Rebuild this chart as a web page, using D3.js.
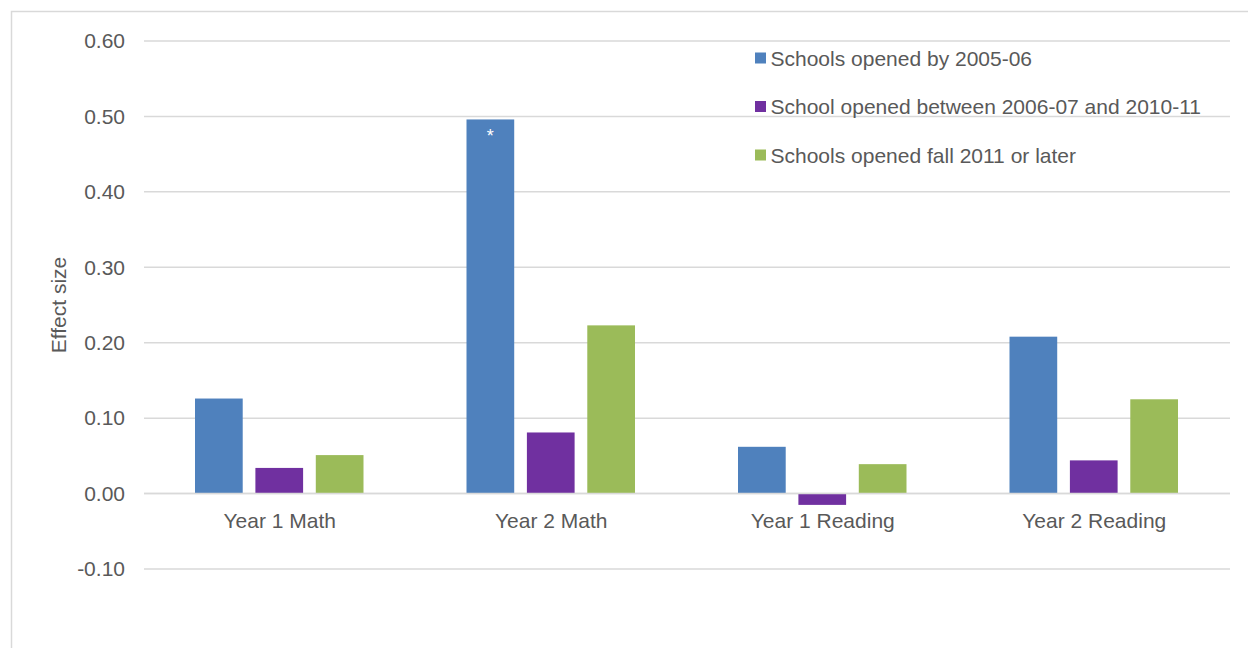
<!DOCTYPE html>
<html>
<head>
<meta charset="utf-8">
<script src="https://cdn.jsdelivr.net/npm/d3@7"></script>
<style>
  html, body { margin: 0; padding: 0; background: #fff; }
  svg { display: block; font-family: "Liberation Sans", Arial, sans-serif; }
</style>
</head>
<body>
<svg id="chart" width="1248" height="648"></svg>
<script>
// Outcome categories along the x axis
const categories = ["Year 1 Math", "Year 2 Math", "Year 1 Reading", "Year 2 Reading"];

// Series names (school opening cohorts)
const seriesNames = [
  "Schools opened by 2005-06",
  "School opened between 2006-07 and 2010-11",
  "Schools opened fall 2011 or later"
];

// Effect sizes per cohort, in category order
const openedBy2005 = [0.126, 0.496, 0.062, 0.208];
const opened2006to2010 = [0.034, 0.081, -0.015, 0.044];
const opened2011Later = [0.051, 0.223, 0.039, 0.125];

// Statistically significant estimates (marked with *)
const significant = [[false, true, false, false], [false, false, false, false], [false, false, false, false]];

// Y axis ticks
const yTicks = [-0.10, 0.00, 0.10, 0.20, 0.30, 0.40, 0.50, 0.60];

const seriesValues = [openedBy2005, opened2006to2010, opened2011Later];
const colors = ["#4f81bd", "#7030a0", "#9bbb59"];

const svg = d3.select("#chart");
const textColor = "#595959";
const gridColor = "#d9d9d9";
const fontSize = "21px";

// Outer chart frame
svg.append("rect")
  .attr("x", 11.5).attr("y", 11.5)
  .attr("width", 1248).attr("height", 648)
  .attr("fill", "none").attr("stroke", gridColor).attr("stroke-width", 1.5);

const plot = { left: 144, right: 1230, top: 41, bottom: 569 };

const x = d3.scaleBand()
  .domain(categories)
  .range([plot.left, plot.right])
  .paddingInner(0).paddingOuter(0);

const y = d3.scaleLinear()
  .domain([-0.10, 0.60])
  .range([plot.bottom, plot.top]);

const inner = d3.scaleBand()
  .domain(d3.range(seriesNames.length))
  .range([51, x.bandwidth() - 52])
  .paddingInner(0.21);

// Gridlines
svg.append("g")
  .selectAll("line")
  .data(yTicks)
  .join("line")
  .attr("x1", plot.left).attr("x2", plot.right)
  .attr("y1", d => y(d)).attr("y2", d => y(d))
  .attr("stroke", gridColor).attr("stroke-width", 1.5);

// Y axis labels (plain hyphen for negatives)
const fmt = d3.format(".2f");
const yAxis = d3.axisLeft(y)
  .tickValues(yTicks)
  .tickFormat(d => fmt(d).replace("\u2212", "-"))
  .tickSize(0)
  .tickPadding(19);
const gy = svg.append("g")
  .attr("transform", `translate(${plot.left},0)`)
  .call(yAxis);
gy.select(".domain").remove();
gy.selectAll("text")
  .attr("fill", textColor)
  .style("font-size", fontSize)
  .style("font-family", "'Liberation Sans', Arial, sans-serif");

// Bars
const groups = svg.append("g")
  .selectAll("g")
  .data(categories)
  .join("g")
  .attr("transform", d => `translate(${x(d)},0)`);

groups.selectAll("rect")
  .data((c, ci) => seriesValues.map((vals, si) => ({ si, ci, v: vals[ci] })))
  .join("rect")
  .attr("x", d => inner(d.si))
  .attr("width", inner.bandwidth())
  .attr("y", d => y(Math.max(0, d.v)))
  .attr("height", d => Math.abs(y(d.v) - y(0)))
  .attr("fill", d => colors[d.si]);

// Significance markers
groups.selectAll("text.sig")
  .data((c, ci) => seriesValues.map((vals, si) => ({ si, ci, v: vals[ci] }))
    .filter(d => significant[d.si][d.ci]))
  .join("text")
  .attr("class", "sig")
  .attr("x", d => inner(d.si) + inner.bandwidth() / 2)
  .attr("y", d => y(d.v) + 23)
  .attr("text-anchor", "middle")
  .attr("fill", "#ffffff")
  .style("font-size", "18px")
  .text("*");

// Zero baseline
svg.append("line")
  .attr("x1", plot.left).attr("x2", plot.right)
  .attr("y1", y(0)).attr("y2", y(0))
  .attr("stroke", gridColor).attr("stroke-width", 1.5);

// Category labels
svg.append("g")
  .selectAll("text")
  .data(categories)
  .join("text")
  .attr("x", d => x(d) + x.bandwidth() / 2)
  .attr("y", y(0) + 34)
  .attr("text-anchor", "middle")
  .attr("fill", textColor)
  .style("font-size", fontSize)
  .text(d => d);

// Y axis title
svg.append("text")
  .attr("transform", `translate(66,305) rotate(-90)`)
  .attr("text-anchor", "middle")
  .attr("fill", textColor)
  .style("font-size", fontSize)
  .text("Effect size");

// Legend
const legend = svg.append("g")
  .selectAll("g")
  .data(seriesNames)
  .join("g")
  .attr("transform", (d, i) => `translate(755,${58 + i * 48.5})`);
legend.append("rect")
  .attr("x", 0).attr("y", -5.5)
  .attr("width", 11).attr("height", 11)
  .attr("fill", (d, i) => colors[i]);
legend.append("text")
  .attr("x", 15.5).attr("y", 7.5)
  .attr("fill", textColor)
  .style("font-size", fontSize)
  .text(d => d);
</script>
</body>
</html>
